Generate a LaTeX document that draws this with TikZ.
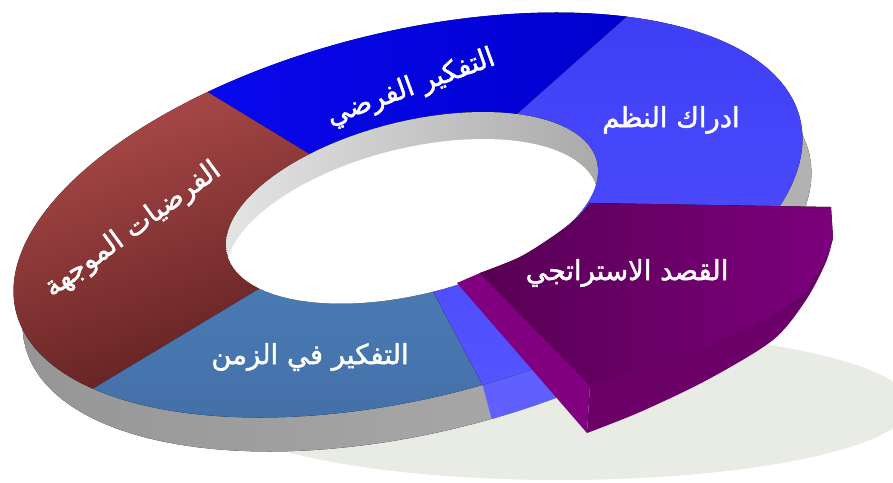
\documentclass[tikz,border=0pt]{standalone}
\usepackage{fontspec}
\newfontfamily\arabicfont[Script=Arabic,FakeBold=1.6]{DejaVu Sans}
\TeXXeTstate=1
\definecolor{cblue}{RGB}{8,8,238}
\definecolor{cblueR}{RGB}{0,0,205}
\definecolor{clight1}{RGB}{62,62,246}
\definecolor{clight2}{RGB}{84,84,255}
\definecolor{clightside}{RGB}{96,96,255}
\definecolor{cred1}{RGB}{172,74,74}
\definecolor{cred2}{RGB}{96,32,32}
\definecolor{csteel1}{RGB}{74,122,178}
\definecolor{csteel2}{RGB}{68,112,168}
\definecolor{cpur1}{RGB}{88,0,84}
\definecolor{cpur2}{RGB}{124,0,124}
\definecolor{cpurrad}{RGB}{128,0,128}
\definecolor{cpurside}{RGB}{106,0,104}
\definecolor{cshadow}{RGB}{233,235,229}
\definecolor{cwall1}{RGB}{228,228,228}
\definecolor{cwall2}{RGB}{170,170,170}
\definecolor{cside1}{RGB}{150,150,150}
\definecolor{cside2}{RGB}{178,178,178}
\tikzset{
  lbl/.style={text=white, font=\arabicfont\fontsize{27.5}{32}\selectfont, inner sep=0pt},
}
\begin{document}
\begin{tikzpicture}[x=1pt,y=-1pt,
  declare function={
    ox(\t)=408+394.5*cos(\t);
    oy(\t)=215-76.05*cos(\t)-187.7*sin(\t);
    ix(\t)=412+186*cos(\t);
    iy(\t)=207.75-36.67*cos(\t)-88.45*sin(\t);
  }]
\useasboundingbox (0,0) rectangle (893,482);
\fill[white] (0,0) rectangle (893,482);
% shadow
\fill[cshadow] (560,405) ellipse [x radius=350pt, y radius=75pt];
% outer side of the ring
\fill[left color=cside1, right color=cside2] plot[domain=0:360,samples=120,variable=\t]({ox(\t)+9},{oy(\t)+34}) -- cycle;
\fill[clightside] plot[domain=280.9:302,samples=20,variable=\t]({ox(\t)},{oy(\t)}) -- plot[domain=302:280.9,samples=20,variable=\t]({ox(\t)+9},{oy(\t)+34}) -- cycle;
% top faces
\fill[top color=cred1, bottom color=cred2, shading angle=20] plot[domain=120.5:217,samples=60,variable=\t]({ox(\t)},{oy(\t)}) -- plot[domain=215:123.3,samples=40,variable=\t]({ix(\t)},{iy(\t)}) -- cycle;
\fill[left color=cblue, right color=cblueR] plot[domain=56.3:120.5,samples=40,variable=\t]({ox(\t)},{oy(\t)}) -- plot[domain=123.3:55.6,samples=40,variable=\t]({ix(\t)},{iy(\t)}) -- cycle;
\fill[top color=csteel1, bottom color=csteel2] plot[domain=217:280.9,samples=40,variable=\t]({ox(\t)},{oy(\t)}) -- plot[domain=276.5:215,samples=40,variable=\t]({ix(\t)},{iy(\t)}) -- cycle;
\fill[top color=clight1, bottom color=clight2] plot[domain=280.9:416.3,samples=80,variable=\t]({ox(\t)},{oy(\t)}) -- plot[domain=415.6:276.5,samples=80,variable=\t]({ix(\t)},{iy(\t)}) -- cycle;
% hole with inner wall
\fill[left color=cwall1, right color=cwall2] plot[domain=0:360,samples=100,variable=\t]({ix(\t)},{iy(\t)}) -- cycle;
\begin{scope}
  \clip plot[domain=0:360,samples=100,variable=\t]({ix(\t)},{iy(\t)+27}) -- cycle;
  \fill[white] plot[domain=0:360,samples=100,variable=\t]({ix(\t)},{iy(\t)}) -- cycle;
\end{scope}
% exploded purple segment
\fill[cpurside] plot[smooth] coordinates {(590,385) (665,362) (745,330) (797,300) (822,265) (833,238)}
  -- plot[smooth] coordinates {(833,238) (826,262) (806,300) (773,340) (707,380) (640,412) (587,433)} -- cycle;
\fill[cpurrad] (457,283) -- (480,273) -- (590,385) -- (587,433) -- cycle;
\fill[left color=cpur1, right color=cpur2] (590,203) -- (831,207) -- (833,238)
  -- plot[smooth] coordinates {(833,238) (822,265) (797,300) (745,330) (665,362) (590,385)}
  -- (480,273)
  -- plot[smooth] coordinates {(480,273) (520,257) (555,235) (578,217) (590,203)} -- cycle;
% labels
\node[lbl, rotate=20] (l1) at (411,88) {\beginR التفكير الفرضي\endR};
\node[lbl] (l2) at (671,120) {\beginR ادراك النظم\endR};
\node[lbl] (l3) at (627,273) {\beginR القصد الاستراتجي\endR};
\node[lbl] (l4) at (310,357) {\beginR التفكير في الزمن\endR};
\node[lbl, rotate=36] (l5) at (133,230) {\beginR الفرضيات الموجهة\endR};
\end{tikzpicture}
\end{document}
